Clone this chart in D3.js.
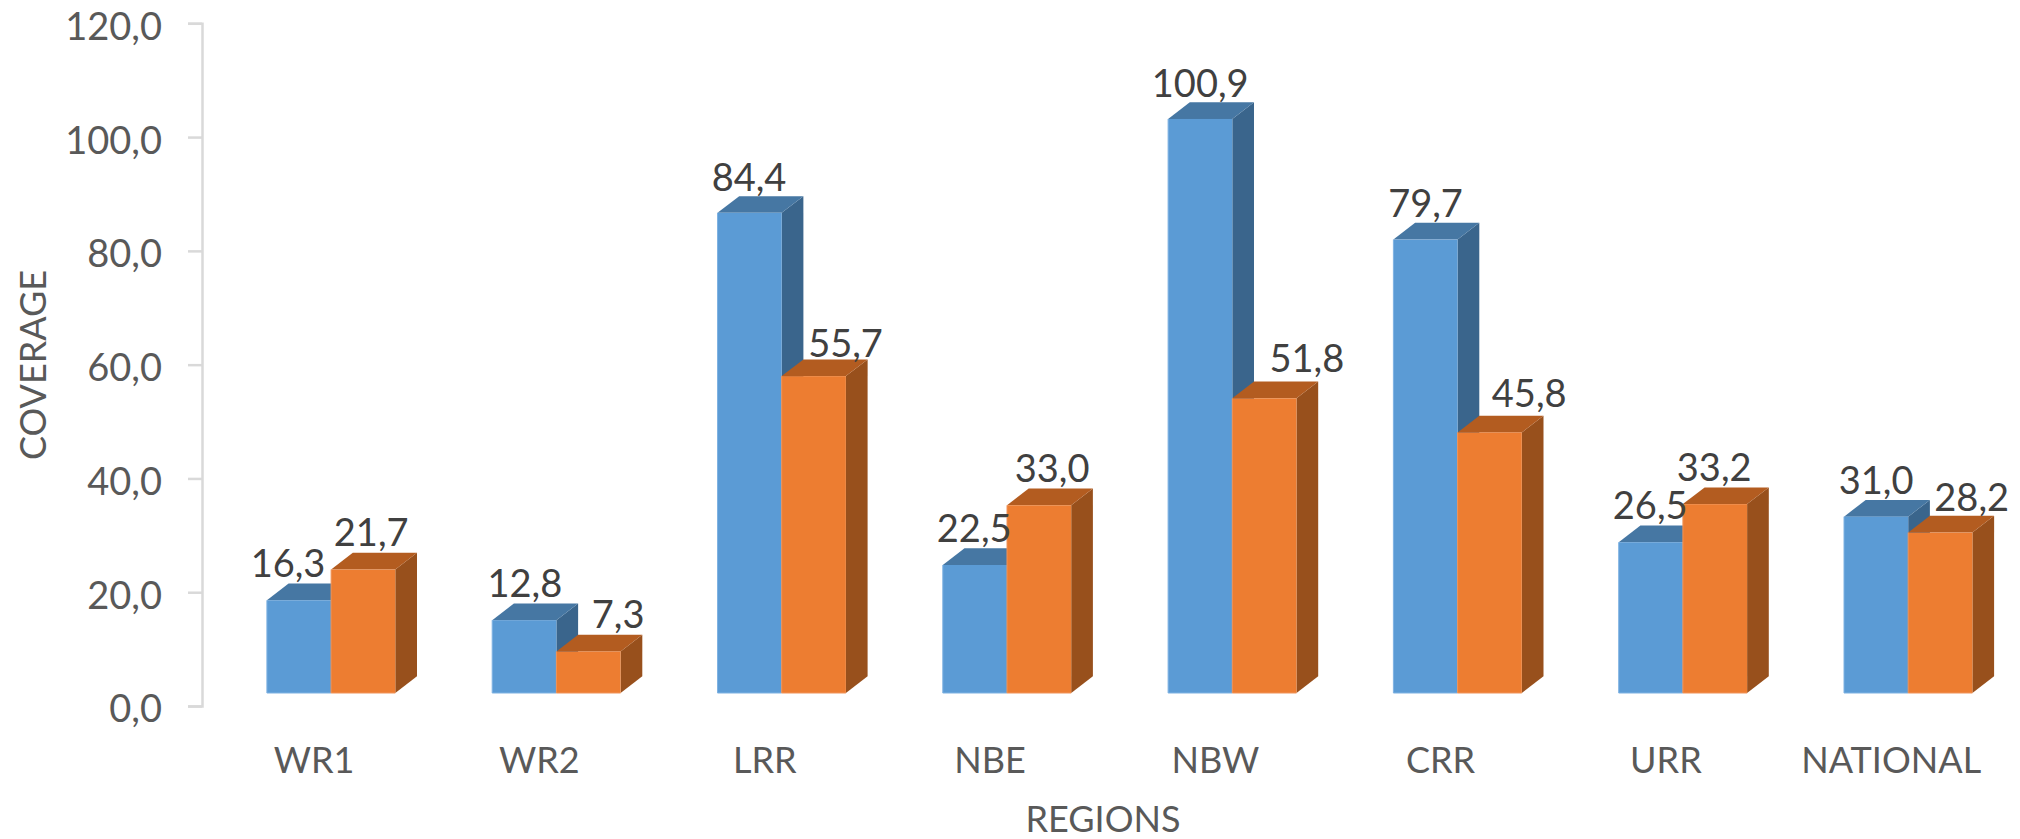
<!DOCTYPE html>
<html><head><meta charset="utf-8">
<script src="https://cdn.jsdelivr.net/npm/d3@7"></script>
<style>html,body{margin:0;padding:0;background:#fff;overflow:hidden}text{font-family:Lato,"Open Sans",sans-serif}</style>
</head><body><svg id="c" width="2020" height="839"></svg>
<script>
const categories=["WR1","WR2","LRR","NBE","NBW","CRR","URR","NATIONAL"];
const seriesBlue=[16.3,12.8,84.4,22.5,100.9,79.7,26.5,31.0];
const seriesOrange=[21.7,7.3,55.7,33.0,51.8,45.8,33.2,28.2];
const yTicks=[0,20,40,60,80,100,120];
// label nudges (layout only): offset of each label's baseline from its bar's front top centre
const blueDx=[-11,0.6,-0.6,-0.7,0,0,-0.6,0], blueDy=[-23.7,-23.6,-21.6,-23.3,-22.3,-22.8,-22.9,-22.6];
const orangeDx=[8,29.7,31.7,13,42.5,39.5,-0.8,31.4], orangeDy=[-23.3,-23.4,-19.3,-23.5,-26.6,-25.7,-23.3,-21.5];

const svg=d3.select("#c");
const y=d3.scaleLinear().domain([0,120]).range([706,23.3]);
const x0=d3.scaleBand().domain(categories).range([218.45,2020.85]);
const barW=64.2;
const x1=d3.scaleBand().domain(["blue","orange"]).range([x0.bandwidth()/2-barW,x0.bandwidth()/2+barW]);
const lift=13, depthX=21.7, depthY=16.7;
const fy=v=>y(v)-lift, baseY=y(0)-lift;
const series=[
 {k:"blue",vals:seriesBlue,front:"#5B9BD5",top:"#4677A3",side:"#3A658C",edge:"#7FB2E2"},
 {k:"orange",vals:seriesOrange,front:"#ED7D31",top:"#B35C20",side:"#98501C",edge:"#F0945A"}
];
const poly=p=>p.map(q=>q.join(",")).join(" ");
categories.forEach((c,i)=>{
 const g=svg.append("g");
 series.forEach(s=>{
  const l=x0(c)+x1(s.k), r=l+barW, t=fy(s.vals[i]);
  g.append("polygon").attr("points",poly([[r,t],[r+depthX,t-depthY],[r+depthX,baseY-depthY],[r,baseY]])).attr("fill",s.side);
  g.append("polygon").attr("points",poly([[l,t],[l+depthX,t-depthY],[r+depthX,t-depthY],[r,t]])).attr("fill",s.top);
  g.append("rect").attr("x",l).attr("y",t).attr("width",barW).attr("height",baseY-t).attr("fill",s.front);
  g.append("path").attr("d",`M${l},${t}V${baseY}H${r}`).attr("fill","none").attr("stroke",s.edge).attr("stroke-width",1);
 });
});
const labels=svg.append("g");
series.forEach(s=>{
 const dx=s.k==="blue"?blueDx:orangeDx, dy=s.k==="blue"?blueDy:orangeDy;
 categories.forEach((c,i)=>{
  labels.append("text").attr("x",x0(c)+x1(s.k)+barW/2+dx[i]).attr("y",fy(s.vals[i])+dy[i])
   .attr("text-anchor","middle")
   .attr("font-size",38).attr("fill","#404040").text(s.vals[i].toFixed(1).replace(".",","));
 });
});
const ya=svg.append("g").attr("transform","translate(202,0)")
 .call(d3.axisLeft(y).tickValues(yTicks).tickSize(14).tickPadding(26).tickFormat(d=>d.toFixed(1).replace(".",",")));
ya.select(".domain").attr("stroke","#D9D9D9").attr("stroke-width",2.5);
ya.selectAll(".tick line").attr("stroke","#D9D9D9").attr("stroke-width",2.5);
ya.selectAll("text").attr("font-size",38).attr("fill","#595959").attr("font-family","Lato").attr("dy","0.42em");
const xa=svg.append("g").attr("transform","translate(-17,773.3)")
 .call(d3.axisBottom(x0).tickSize(0).tickPadding(0));
xa.select(".domain").remove();
xa.selectAll("text").attr("font-size",36).attr("fill","#595959").attr("font-family","Lato").attr("y",0).attr("dy",0);
svg.append("text").attr("x",1103).attr("y",831.5).attr("text-anchor","middle")
 .attr("font-size",36).attr("fill","#595959").text("REGIONS");
svg.append("text").attr("transform","translate(32,365) rotate(-90)").attr("text-anchor","middle").attr("dominant-baseline","central")
 .attr("font-size",36).attr("fill","#595959").text("COVERAGE");
</script></body></html>
